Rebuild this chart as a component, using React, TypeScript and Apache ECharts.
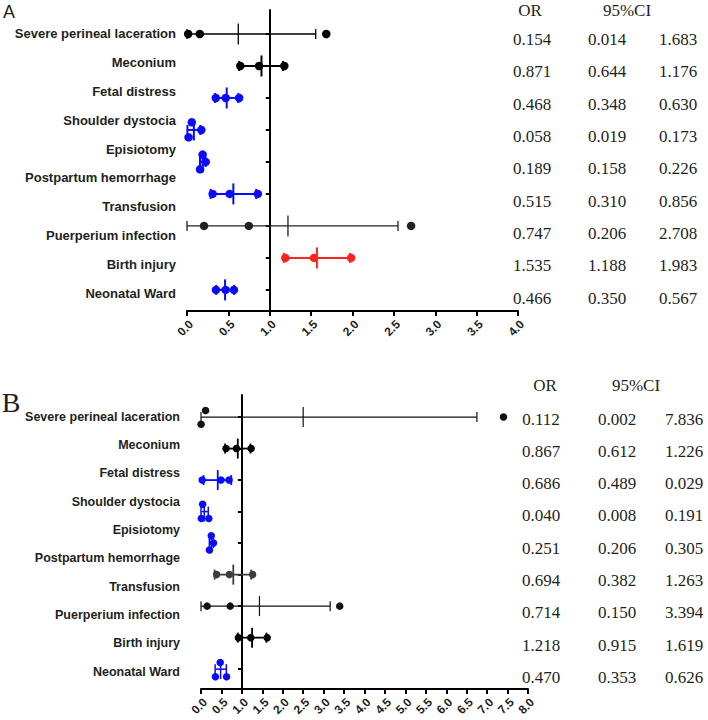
import React, { useEffect, useRef } from "react";
import * as echarts from "echarts";

// ---------- data ----------
const outcomeLabels = [
  "Severe perineal laceration",
  "Meconium",
  "Fetal distress",
  "Shoulder dystocia",
  "Episiotomy",
  "Postpartum hemorrhage",
  "Transfusion",
  "Puerperium infection",
  "Birth injury",
  "Neonatal Ward",
];

const xTicksA = { min: 0, max: 4, interval: 0.5 };
const xTicksB = { min: 0, max: 8, interval: 0.5 };

// table values (panel A)
const orA = ["0.154", "0.871", "0.468", "0.058", "0.189", "0.515", "0.747", "1.535", "0.466"];
const ciLowA = ["0.014", "0.644", "0.348", "0.019", "0.158", "0.310", "0.206", "1.188", "0.350"];
const ciHighA = ["1.683", "1.176", "0.630", "0.173", "0.226", "0.856", "2.708", "1.983", "0.567"];
// table values (panel B)
const orB = ["0.112", "0.867", "0.686", "0.040", "0.251", "0.694", "0.714", "1.218", "0.470"];
const ciLowB = ["0.002", "0.612", "0.489", "0.008", "0.206", "0.382", "0.150", "0.915", "0.353"];
const ciHighB = ["7.836", "1.226", "0.029", "0.191", "0.305", "1.263", "3.394", "1.619", "0.626"];

// plotted points (three per row)
const pointsA = [
  [0.014, 0.154, 1.683],
  [0.644, 0.871, 1.176],
  [0.348, 0.468, 0.63],
  [0.019, 0.058, 0.173],
  [0.158, 0.189, 0.226],
  [0.31, 0.515, 0.856],
  [0.206, 0.747, 2.708],
  [1.188, 1.535, 1.983],
  [0.35, 0.466, 0.567],
];
const pointsB = [
  [0.002, 0.112, 7.4],
  [0.612, 0.867, 1.226],
  [0.029, 0.489, 0.686],
  [0.008, 0.04, 0.191],
  [0.206, 0.251, 0.305],
  [0.382, 0.694, 1.263],
  [0.15, 0.714, 3.394],
  [0.915, 1.218, 1.619],
  [0.353, 0.47, 0.626],
];
// vertical scatter spread of overlapping points (in rows)
const spreadA = [
  [0, 0, 0], [0, 0, 0], [0, 0, 0], [0.23, -0.24, 0], [0.23, -0.23, 0],
  [0, 0, 0], [0, 0, 0], [0, 0, 0], [0, 0, 0],
];
const spreadB = [
  [0.23, -0.21, 0], [0, 0, 0], [0, 0, 0], [0.22, -0.23, 0.22], [0.22, -0.23, 0],
  [0, 0, 0], [0, 0, 0], [0, 0, 0], [0.24, -0.21, 0.24],
];
// mean line and error bar extents
const meanA = [0.62, 0.9, 0.48, 0.083, 0.19, 0.56, 1.22, 1.57, 0.46];
const barLowA = [0, 0.63, 0.34, 0.005, 0.157, 0.285, 0, 1.17, 0.353];
const barHighA = [1.555, 1.16, 0.62, 0.161, 0.225, 0.836, 2.55, 1.97, 0.57];
const meanB = [2.5, 0.9, 0.41, 0.08, 0.254, 0.79, 1.43, 1.25, 0.48];
const barLowB = [0, 0.59, 0.064, 0, 0.204, 0.333, 0, 0.9, 0.346];
const barHighB = [6.75, 1.21, 0.74, 0.178, 0.304, 1.227, 3.16, 1.6, 0.62];

// ---------- styles ----------
const BLUE = "#0a0aff";
const RED = "#ff2222";
const TEXT = "#231f20";
const colorsA = ["#000", "#000", BLUE, BLUE, BLUE, BLUE, "#222", RED, BLUE];
const widthsA = [1.3, 2, 2, 2, 2, 2, 1.3, 2, 2];
const colorsB = ["#111", "#000", BLUE, BLUE, BLUE, "#3c3c3c", "#111", "#000", BLUE];
const widthsB = [1.2, 1.8, 1.8, 1.5, 1.5, 1.8, 1.2, 1.8, 1.5];
const SANS = "Arial";
const SERIF = "'Liberation Serif'";

function barData(lo: number[], hi: number[], mean: number[]) {
  return lo.map((l, i) => [l, hi[i], mean[i], i]);
}

function dotData(points: number[][], spread: number[][], colors: string[]) {
  const out: any[] = [];
  points.forEach((row, i) =>
    row.forEach((v, j) =>
      out.push({ value: [v, i + spread[i][j]], itemStyle: { color: colors[i], opacity: 1 } })
    )
  );
  return out;
}

function makeRender(colors: string[], widths: number[], meanHalf: number, capHalf: number) {
  return (params: any, api: any) => {
    const lo = api.value(0);
    const hi = api.value(1);
    const mean = api.value(2);
    const row = api.value(3);
    const a = api.coord([lo, row]);
    const b = api.coord([hi, row]);
    const m = api.coord([mean, row]);
    const st = { stroke: colors[params.dataIndex], lineWidth: widths[params.dataIndex] };
    return {
      type: "group",
      children: [
        { type: "line", shape: { x1: a[0], y1: a[1], x2: b[0], y2: b[1] }, style: st },
        { type: "line", shape: { x1: a[0], y1: a[1] - capHalf, x2: a[0], y2: a[1] + capHalf }, style: st },
        { type: "line", shape: { x1: b[0], y1: b[1] - capHalf, x2: b[0], y2: b[1] + capHalf }, style: st },
        { type: "line", shape: { x1: m[0], y1: m[1] - meanHalf, x2: m[0], y2: m[1] + meanHalf }, style: st },
      ],
    };
  };
}

function txt(text: string, x: number, y: number, family: string, size: number) {
  return {
    type: "text",
    x,
    y,
    silent: true,
    style: {
      text,
      fill: TEXT,
      fontFamily: family,
      fontSize: size,
      align: "center",
      verticalAlign: "middle",
      textAlign: "center",
      textVerticalAlign: "middle",
    },
  };
}

function tableTexts(
  or: string[],
  lo: string[],
  hi: string[],
  headerY: number,
  headerX: number[],
  rowY0: number,
  rowStep: number,
  colX: number[]
) {
  const out: any[] = [
    txt("OR", headerX[0], headerY, SERIF, 17),
    txt("95%CI", headerX[1], headerY, SERIF, 17),
  ];
  or.forEach((v, i) => {
    const y = rowY0 + i * rowStep;
    out.push(txt(v, colX[0], y, SERIF, 17));
    out.push(txt(lo[i], colX[1], y, SERIF, 17));
    out.push(txt(hi[i], colX[2], y, SERIF, 17));
  });
  return out;
}

function valueXAxis(gridIndex: number, t: { min: number; max: number; interval: number }, fontSize: number, margin: number) {
  return {
    type: "value",
    gridIndex,
    min: t.min,
    max: t.max,
    interval: t.interval,
    axisLine: { show: true, onZero: false, lineStyle: { color: "#000", width: 2 } },
    axisTick: { show: true, length: 5, lineStyle: { color: "#000", width: 2 } },
    axisLabel: {
      rotate: 45,
      margin,
      fontSize,
      fontWeight: "bold",
      fontFamily: SANS,
      color: TEXT,
      verticalAlign: "top",
      formatter: (v: number) => v.toFixed(1),
    },
    splitLine: { show: false },
  };
}

function rowYAxis(gridIndex: number, min: number, max: number, offset: number) {
  return {
    type: "value",
    gridIndex,
    inverse: true,
    min,
    max,
    offset,
    axisLine: { show: true, onZero: false, lineStyle: { color: "#000", width: 2 } },
    axisTick: {
      show: true,
      length: 4,
      customValues: [0, 1, 2, 3, 4, 5, 6, 7, 8],
      lineStyle: { color: "#000", width: 2 },
    },
    axisLabel: { show: false },
    splitLine: { show: false },
  };
}

function labelYAxis(gridIndex: number, fontSize: number) {
  return {
    type: "category",
    gridIndex,
    inverse: true,
    data: outcomeLabels,
    axisLine: { show: false },
    axisTick: { show: false },
    axisLabel: {
      margin: 0,
      fontSize,
      fontWeight: "bold",
      fontFamily: SANS,
      color: TEXT,
    },
    splitLine: { show: false },
  };
}

export default function App() {
  const ref = useRef<HTMLDivElement>(null);
  useEffect(() => {
    if (!ref.current) return;
    document.body.style.margin = "0";
    const chart = echarts.init(ref.current, undefined, { renderer: "svg" });

    const gridA = { left: 187, top: 10, width: 331, height: 301, outerBoundsMode: "none" };
    const gridALab = { left: 176, top: 19.6, width: 1, height: 287.8, outerBoundsMode: "none" };
    const gridB = { left: 201, top: 395, width: 327, height: 294, outerBoundsMode: "none" };
    const gridBLab = { left: 180, top: 402.5, width: 1, height: 283.3, outerBoundsMode: "none" };

    const option: any = {
      animation: false,
      backgroundColor: "#fff",
      grid: [gridA, gridALab, gridB, gridBLab],
      xAxis: [
        valueXAxis(0, xTicksA, 12, 7),
        { type: "value", gridIndex: 1, show: false },
        valueXAxis(2, xTicksB, 12, 7),
        { type: "value", gridIndex: 3, show: false },
      ],
      yAxis: [
        rowYAxis(0, -0.75, 8.66, -gridA.width / 4),
        labelYAxis(1, 13),
        rowYAxis(2, -0.7, 8.63, -gridB.width / 8),
        labelYAxis(3, 12.5),
      ],
      series: [
        {
          type: "custom",
          xAxisIndex: 0,
          yAxisIndex: 0,
          clip: false,
          z: 2,
          encode: { x: [0, 1, 2], y: 3 },
          renderItem: makeRender(colorsA, widthsA, 10.5, 5),
          data: barData(barLowA, barHighA, meanA),
        },
        {
          type: "scatter",
          xAxisIndex: 0,
          yAxisIndex: 0,
          symbol: "circle",
          symbolSize: 8.5,
          z: 3,
          itemStyle: { opacity: 1 },
          data: dotData(pointsA, spreadA, colorsA),
        },
        {
          type: "custom",
          xAxisIndex: 2,
          yAxisIndex: 2,
          clip: false,
          z: 2,
          encode: { x: [0, 1, 2], y: 3 },
          renderItem: makeRender(colorsB, widthsB, 10, 5),
          data: barData(barLowB, barHighB, meanB),
        },
        {
          type: "scatter",
          xAxisIndex: 2,
          yAxisIndex: 2,
          symbol: "circle",
          symbolSize: 7.5,
          z: 3,
          itemStyle: { opacity: 1 },
          data: dotData(pointsB, spreadB, colorsB),
        },
      ],
      graphic: [
        txt("A", 9, 12, SANS, 18),
        txt("B", 11, 402, SERIF, 28),
        ...tableTexts(orA, ciLowA, ciHighA, 10, [530, 627], 39.3, 32.35, [532, 607, 678]),
        ...tableTexts(orB, ciLowB, ciHighB, 385, [545, 636], 419, 32.3, [541, 617, 684]),
      ],
    };
    chart.setOption(option);
    return () => chart.dispose();
  }, []);
  return (
    <div
      ref={ref}
      style={{ position: "absolute", left: 0, top: 0, width: 708, height: 720 }}
    />
  );
}
